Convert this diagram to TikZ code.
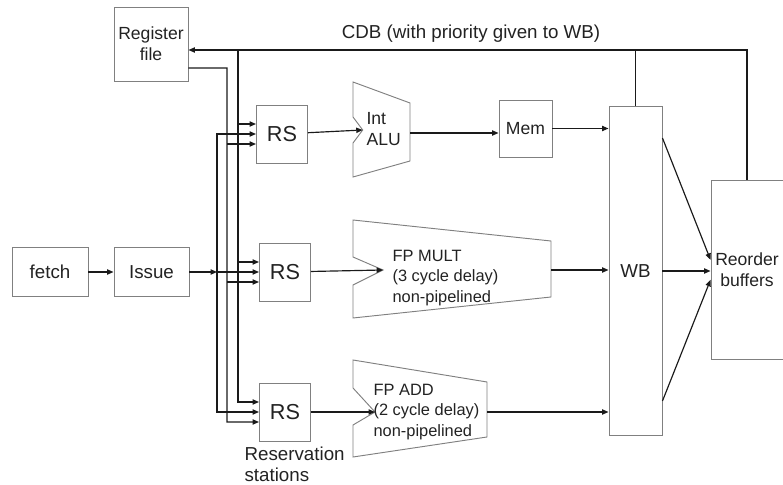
\documentclass[tikz,border=0pt]{standalone}
\usepackage{fontspec}
\setmainfont{Liberation Sans}
\usepackage{tikz}
\usetikzlibrary{arrows.meta}

\definecolor{boxgray}{HTML}{808080}
\definecolor{wire}{HTML}{1A1A1A}
\definecolor{ink}{HTML}{222222}

\begin{document}
\begin{tikzpicture}[
    x=0.03cm,y=-0.03cm,
    ->,>={Triangle[length=5.5pt,width=4.5pt]},
    line width=1pt,draw=wire,
    block/.style={draw=boxgray,line width=0.8pt,text=ink,align=center,inner sep=1pt,font=\fontsize{16}{18}\selectfont},
    rsbox/.style={block,minimum width=1.53cm,minimum height=1.74cm,font=\fontsize{18.5}{20}\selectfont},
    unit/.style={draw=boxgray,line width=0.8pt,-},
    label/.style={text=ink,align=left,inner sep=0pt}
]
\useasboundingbox (0,0) rectangle (783,485);

% boxes
\node[block,minimum width=2.22cm,minimum height=2.22cm,font=\fontsize{15}{18}\selectfont] (reg) at (151,44) {Register\\file};
\node[block,minimum width=2.28cm,minimum height=1.47cm] (fetch) at (50,272) {fetch};
\node[block,minimum width=2.25cm,minimum height=1.47cm] (issue) at (151.5,272) {Issue};
\node[rsbox] (rs1) at (282,134) {RS};
\node[rsbox] (rs2) at (285,272) {RS};
\node[rsbox] (rs3) at (285,412) {RS};
\node[block,minimum width=1.59cm,minimum height=1.71cm,font=\fontsize{15}{17}\selectfont] (mem) at (525.5,128.5) {Mem};
\node[block,minimum width=1.59cm,minimum height=9.87cm] (wb) at (635.5,271) {WB};
\node[block,minimum width=2.16cm,minimum height=5.37cm,font=\fontsize{15}{18}\selectfont] (rob) at (747,269.5) {Reorder\\buffers};

% functional units
\coordinate (alu in) at (362.7,130);
\coordinate (mult in) at (383,270);
\coordinate (add in) at (375,412);
\draw[unit] (353,82) -- (410,103) -- (410,161) -- (353,177) -- (353,143) -- (alu in) -- (353,117) -- cycle;
\draw[unit] (353,220) -- (551,241) -- (551,297) -- (353,318) -- (353,285) -- (mult in) -- (353,257) -- cycle;
\draw[unit] (353,360) -- (487,382) -- (487,437) -- (353,457) -- (353,425) -- (add in) -- (353,388) -- cycle;
\node[label,anchor=west,font=\fontsize{15}{18}\selectfont] (alu lbl) at (366,129) {Int\\ALU};
\node[label,anchor=west,font=\fontsize{14}{17.5}\selectfont] (mult lbl) at (392,278) {FP MULT\\(3 cycle delay)\\non-pipelined};
\node[label,anchor=west,font=\fontsize{14}{17.5}\selectfont] (add lbl) at (373,412) {FP ADD\\(2 cycle delay)\\non-pipelined};

% texts
\node[label,font=\fontsize{16}{18}\selectfont] (cdb lbl) at (471,34) {CDB (with priority given to WB)};
\node[label,anchor=north west,font=\fontsize{16}{18.5}\selectfont] (res lbl) at (244,446) {Reservation\\stations};

% bus taps on the reservation stations
\foreach \r in {rs1,rs2,rs3} {
  \coordinate (\r-cdb) at ([yshift=.3cm]\r.west);
  \coordinate (\r-iss) at (\r.west);
  \coordinate (\r-reg) at ([yshift=-.3cm]\r.west);
}
\coordinate (cdb in) at ([yshift=-.18cm]reg.east);
\coordinate (cdb bus) at (238,50);
\coordinate (reg out) at ([yshift=-.72cm]reg.east);
\coordinate (reg bus) at (227,68);
\coordinate (iss bus) at (217,272);

% front end
\draw (fetch) -- (issue);
\draw (issue) -- (iss bus);
\draw (iss bus) -- (rs2-iss);
\draw (iss bus) |- (rs1-iss);
\draw (iss bus) |- (rs3-iss);

% register file bus
\draw (reg out) -- (reg bus) |- (rs3-reg);
\draw (rs1-reg -| reg bus) -- (rs1-reg);
\draw (rs2-reg -| reg bus) -- (rs2-reg);

% common data bus
\draw (rob.north) |- (cdb in);
\draw[-] (wb.north) -- (wb.north |- cdb in);
\draw (cdb bus) |- (rs3-cdb);
\draw (rs1-cdb -| cdb bus) -- (rs1-cdb);
\draw (rs2-cdb -| cdb bus) -- (rs2-cdb);

% execution paths
\draw (rs1) -- (alu in);
\draw (rs2) -- (mult in);
\draw (rs3) -- (add in);
\coordinate (alu out) at (410,133);
\coordinate (mult out) at (551,270);
\coordinate (add out) at (487,412);
\draw (alu out) -- (alu out -| mem.west);
\draw (mem) -- (mem -| wb.west);
\draw (mult out) -- (mult out -| wb.west);
\draw (add out) -- (add out -| wb.west);

% write back to reorder buffers
\draw ([yshift=-.96cm]wb.north east) -- ([yshift=.29cm]rob.west);
\draw (wb.east) -- (wb.east -| rob.west);
\draw ([yshift=1.05cm]wb.south east) -- ([yshift=-.31cm]rob.west);
\end{tikzpicture}
\end{document}
